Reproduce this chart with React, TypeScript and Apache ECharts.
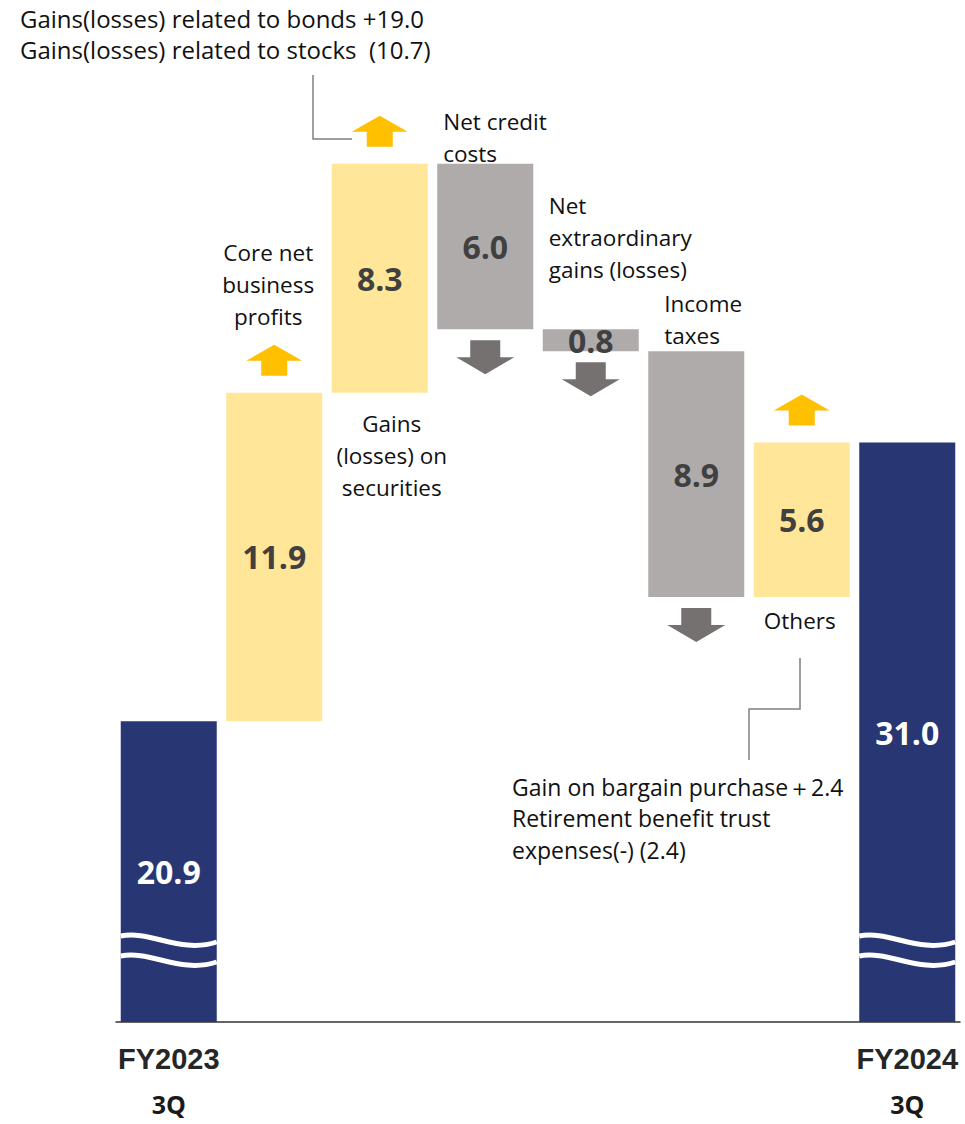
import React, { useEffect, useRef } from 'react';
import * as echarts from 'echarts';

const categories = [
  'FY2023\n3Q',
  'Core net business profits',
  'Gains (losses) on securities',
  'Net credit costs',
  'Net extraordinary gains (losses)',
  'Income taxes',
  'Others',
  'FY2024\n3Q',
];
const startValue = 20.9;
const endValue = 31.0;
const deltas = [11.9, 8.3, -6.0, -0.8, -8.9, 5.6];
const axisMin = 10;
const axisMax = 45;
const stepLabelLines = [
  ['Core net', 'business', 'profits'],
  ['Gains', '(losses) on', 'securities'],
  ['Net credit', 'costs'],
  ['Net', 'extraordinary', 'gains (losses)'],
  ['Income', 'taxes'],
  ['Others'],
];
const topNote = ['Gains(losses) related to bonds +19.0', 'Gains(losses) related to stocks  (10.7)'];
const bottomNote = ['Gain on bargain purchase\uFF0B2.4', 'Retirement benefit trust', 'expenses(-) (2.4)'];

const NAVY = '#283673';
const YELLOW = '#FFE699';
const GRAY = '#AFABAB';
const ARROW_UP = '#FFC000';
const ARROW_DOWN = '#767171';
const FONT = '"Open Sans", "Noto Sans", sans-serif';
const TEXT_FONT = `22.5px ${FONT}`;

const r1 = (v: number) => Math.round(v * 10) / 10;

export default function App() {
  const ref = useRef<HTMLDivElement>(null);
  useEffect(() => {
    const chart = echarts.init(ref.current!, null, { renderer: 'svg' });
    const levels: number[] = [startValue];
    deltas.forEach((d) => levels.push(r1(levels[levels.length - 1] + d)));
    const base: any[] = ['-', ...deltas.map((d, i) => r1(Math.min(levels[i], levels[i + 1]))), '-'];
    const inc: any[] = ['-', ...deltas.map((d) => (d > 0 ? d : '-')), '-'];
    const dec: any[] = ['-', ...deltas.map((d) => (d < 0 ? -d : '-')), '-'];
    const tot: any[] = [startValue, ...deltas.map(() => '-'), endValue];

    const valueLabel = (color: string) => ({
      show: true,
      position: 'inside',
      color,
      fontFamily: FONT,
      fontWeight: 'bold',
      fontSize: 32,
      formatter: (p: any) => Number(p.value).toFixed(1),
    });

    chart.setOption({
      animation: false,
      grid: { left: 116, right: 5, top: 56, bottom: 102 },
      xAxis: {
        type: 'category',
        data: categories,
        axisLine: { show: true, lineStyle: { color: '#333333', width: 1.5 } },
        axisTick: { show: false },
        axisLabel: {
          interval: 0,
          margin: 7,
          formatter: (v: string, i: number) => {
            if (i !== 0 && i !== categories.length - 1) return '';
            const [a, b] = v.split('\n');
            return `{a|${a}}\n{b|${b}}`;
          },
          rich: {
            a: { fontFamily: '"Liberation Sans", Arial, sans-serif', fontWeight: 'bold', fontSize: 29, color: '#262626', lineHeight: 60 },
            b: { fontFamily: FONT, fontWeight: 'bold', fontSize: 25, color: '#1a1a1a', lineHeight: 30 },
          },
        },
      },
      yAxis: { type: 'value', min: axisMin, max: axisMax, show: false, splitLine: { show: false } },
      series: [
        { name: 'base', type: 'bar', stack: 'w', data: base, barCategoryGap: '9%', itemStyle: { color: 'transparent' }, silent: true },
        { name: 'total', type: 'bar', stack: 'w', data: tot, itemStyle: { color: NAVY }, label: valueLabel('#ffffff') },
        { name: 'increase', type: 'bar', stack: 'w', data: inc, itemStyle: { color: YELLOW }, label: valueLabel('#404040') },
        { name: 'decrease', type: 'bar', stack: 'w', data: dec, itemStyle: { color: GRAY }, label: valueLabel('#404040') },
      ],
    });

    const px = (i: number, v: number) => chart.convertToPixel({ gridIndex: 0 }, [i, v]) as number[];
    const catW = px(1, axisMin)[0] - px(0, axisMin)[0];
    const halfBar = (catW * 0.91) / 2;
    const yBottom = px(0, axisMin)[1];

    const graphics: any[] = [];
    const upArrow = (cx: number, tip: number, color: string) => ({
      type: 'polygon',
      z: 50,
      shape: {
        points: [
          [cx, tip], [cx + 28, tip + 16], [cx + 13, tip + 16], [cx + 13, tip + 31],
          [cx - 13, tip + 31], [cx - 13, tip + 16], [cx - 28, tip + 16],
        ],
      },
      style: { fill: color },
    });
    const downArrow = (cx: number, top: number, color: string) => ({
      type: 'polygon',
      z: 50,
      shape: {
        points: [
          [cx - 15, top], [cx + 15, top], [cx + 15, top + 17], [cx + 29, top + 17],
          [cx, top + 34], [cx - 29, top + 17], [cx - 15, top + 17],
        ],
      },
      style: { fill: color },
    });

    // layout of step labels: anchor, align, dx, dy
    const layouts: any[] = [
      { anchor: 'top', align: 'center', dx: -6, dy: -140 },
      { anchor: 'bottom', align: 'center', dx: 12, dy: 31 },
      { anchor: 'top', align: 'left', dx: 6, dy: -42 },
      { anchor: 'top', align: 'left', dx: 6, dy: -124 },
      { anchor: 'top', align: 'left', dx: 16, dy: -48 },
      { anchor: 'bottom', align: 'center', dx: -2, dy: 24 },
    ];

    deltas.forEach((d, k) => {
      const i = k + 1;
      const cx = px(i, axisMin)[0];
      const top = px(i, Math.max(levels[k], levels[k + 1]))[1];
      const bottom = px(i, Math.min(levels[k], levels[k + 1]))[1];
      if (d > 0) graphics.push(upArrow(cx, top - 48, ARROW_UP));
      else graphics.push(downArrow(cx, bottom + 11, ARROW_DOWN));
      const L = layouts[k];
      const ax = L.align === 'left' ? cx - halfBar + L.dx : cx + L.dx;
      const ay = (L.anchor === 'top' ? top : bottom) + L.dy;
      graphics.push({
        type: 'text',
        z: 50,
        style: {
          text: stepLabelLines[k].join('\n'),
          x: ax,
          y: ay - 16,
          align: L.align,
          verticalAlign: 'top',
          lineHeight: 32,
          font: TEXT_FONT,
          fill: '#111111',
        },
      });
    });

    // wave break marks on total bars
    [0, categories.length - 1].forEach((i) => {
      const cx = px(i, axisMin)[0];
      const xl = cx - halfBar;
      const w = halfBar * 2;
      [-86, -66].forEach((off) => {
        const y0 = yBottom + off;
        graphics.push({
          type: 'bezierCurve',
          z: 60,
          shape: {
            x1: xl, y1: y0, x2: xl + w, y2: y0 + 6,
            cpx1: xl + w * 0.31, cpy1: y0 - 6, cpx2: xl + w * 0.62, cpy2: y0 + 18,
          },
          style: { stroke: '#ffffff', lineWidth: 5, fill: null },
        });
      });
    });

    // notes
    graphics.push({
      type: 'text',
      z: 50,
      style: { text: topNote.join('\n'), x: 20, y: 18 - 15.5, verticalAlign: 'top', lineHeight: 31, font: `24px ${FONT}`, fill: '#111111' },
    });
    graphics.push({
      type: 'polyline',
      z: 50,
      shape: { points: [[313, 75], [313, 139], [352, 139]] },
      style: { stroke: '#808080', lineWidth: 1.5, fill: null },
    });
    graphics.push({
      type: 'text',
      z: 50,
      style: { text: bottomNote.join('\n'), x: 512, y: 787 - 16, verticalAlign: 'top', lineHeight: 31.5, font: `23px ${FONT}`, fill: '#111111' },
    });
    graphics.push({
      type: 'polyline',
      z: 50,
      shape: { points: [[800, 658], [800, 709], [749, 709], [749, 760]] },
      style: { stroke: '#808080', lineWidth: 1.5, fill: null },
    });

    chart.setOption({ graphic: graphics });
    return () => chart.dispose();
  }, []);
  return <div ref={ref} style={{ position: 'absolute', left: 0, top: 0, width: 965, height: 1124 }} />;
}
